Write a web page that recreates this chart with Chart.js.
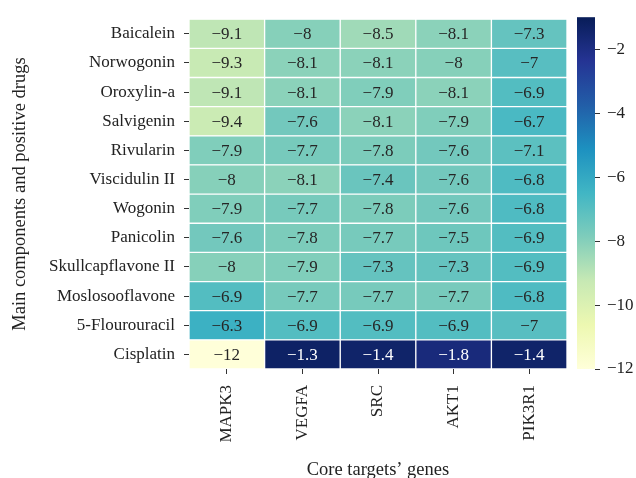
<!DOCTYPE html>
<html>
<head>
<meta charset="utf-8">
<script src="https://cdn.jsdelivr.net/npm/chart.js@4.4.0/dist/chart.umd.min.js"></script>
<style>
  html, body { margin: 0; padding: 0; background: #fff; }
  #wrap { position: relative; width: 636px; height: 478px; }
  #heat { position: absolute; left: 0; top: 0; }
  #cbar { position: absolute; left: 560px; top: 0; }
</style>
</head>
<body>
<div id="wrap">
  <canvas id="heat" width="636" height="478"></canvas>
  <canvas id="cbar" width="76" height="478"></canvas>
</div>
<script>
const drugs = ['Baicalein', 'Norwogonin', 'Oroxylin-a', 'Salvigenin', 'Rivularin', 'Viscidulin II',
  'Wogonin', 'Panicolin', 'Skullcapflavone II', 'Moslosooflavone', '5-Flourouracil', 'Cisplatin'];
const genes = ['MAPK3', 'VEGFA', 'SRC', 'AKT1', 'PIK3R1'];

// docking scores, one array per gene, rows in drug order
const mapk3  = [-9.1, -9.3, -9.1, -9.4, -7.9, -8,   -7.9, -7.6, -8,   -6.9, -6.3, -12];
const vegfa  = [-8,   -8.1, -8.1, -7.6, -7.7, -8.1, -7.7, -7.8, -7.9, -7.7, -6.9, -1.3];
const src    = [-8.5, -8.1, -7.9, -8.1, -7.8, -7.4, -7.8, -7.7, -7.3, -7.7, -6.9, -1.4];
const akt1   = [-8.1, -8,   -8.1, -7.9, -7.6, -7.6, -7.6, -7.5, -7.3, -7.7, -6.9, -1.8];
const pik3r1 = [-7.3, -7,   -6.9, -6.7, -7.1, -6.8, -6.8, -6.9, -6.9, -6.8, -7,   -1.4];
const columns = [mapk3, vegfa, src, akt1, pik3r1];

const colorTicks = [-12, -10, -8, -6, -4, -2];
const vmin = -12, vmax = -1;

// YlGnBu
const stops = ['#ffffd9', '#edf8b1', '#c7e9b4', '#7fcdbb', '#41b6c4', '#1d91c0', '#225ea8', '#253494', '#081d58']
  .map(h => [parseInt(h.slice(1, 3), 16), parseInt(h.slice(3, 5), 16), parseInt(h.slice(5, 7), 16)]);

function rgbFor(v) {
  let t = (v - vmin) / (vmax - vmin);
  t = Math.max(0, Math.min(1, t)) * (stops.length - 1);
  const i = Math.min(Math.floor(t), stops.length - 2);
  const f = t - i;
  return stops[i].map((c, k) => Math.round(c + (stops[i + 1][k] - c) * f));
}
const cssFor = v => 'rgb(' + rgbFor(v).join(',') + ')';

function textFor(v) {
  const lum = rgbFor(v).map(c => {
    c /= 255;
    return c <= 0.03928 ? c / 12.92 : Math.pow((c + 0.055) / 1.055, 2.4);
  });
  const l = 0.2126 * lum[0] + 0.7152 * lum[1] + 0.0722 * lum[2];
  return l > 0.2 ? '#262626' : '#ffffff';
}
const fmt = v => (v < 0 ? '\u2212' : '') + Math.abs(v);

const SERIF = "'Liberation Serif', 'DejaVu Serif', serif";
const INK = '#222';

const cellLabels = {
  id: 'cellLabels',
  afterDatasetsDraw(chart) {
    const ctx = chart.ctx;
    ctx.save();
    ctx.font = '17px ' + SERIF;
    ctx.textAlign = 'center';
    ctx.textBaseline = 'middle';
    chart.data.datasets.forEach((ds, di) => {
      chart.getDatasetMeta(di).data.forEach((el, i) => {
        const v = ds.scores[i];
        const p = el.getCenterPoint();
        ctx.fillStyle = textFor(v);
        ctx.fillText(fmt(v), p.x, p.y + 1);
      });
    });
    ctx.restore();
  }
};

new Chart(document.getElementById('heat'), {
  type: 'bar',
  data: {
    labels: drugs,
    datasets: columns.map((vals, c) => ({
      data: vals.map(() => [c, c + 1]),
      scores: vals,
      backgroundColor: vals.map(cssFor),
      borderColor: '#ffffff',
      borderWidth: 1,
      borderSkipped: false,
      categoryPercentage: 1,
      barPercentage: 1,
      grouped: false
    }))
  },
  options: {
    indexAxis: 'y',
    responsive: false,
    animation: false,
    layout: { padding: { top: 13, right: 69, bottom: 0, left: 0 } },
    plugins: { legend: { display: false }, tooltip: { enabled: false } },
    scales: {
      x: {
        type: 'linear',
        min: 0,
        max: 5,
        afterBuildTicks: s => { s.ticks = genes.map((g, i) => ({ value: i + 0.5 })); },
        afterFit: s => { s.height = 109; },
        ticks: {
          callback: (v, i) => genes[i],
          autoSkip: false,
          minRotation: 90,
          maxRotation: 90,
          padding: 11,
          color: INK,
          font: { family: SERIF, size: 17 }
        },
        grid: { drawOnChartArea: false, tickLength: 5, color: '#333' },
        border: { display: false },
        title: {
          display: true,
          text: 'Core targets\u2019 genes',
          color: INK,
          padding: { top: 4, bottom: -3 },
          font: { family: SERIF, size: 18.5 }
        }
      },
      y: {
        type: 'category',
        afterFit: s => { s.width = 189; },
        ticks: { padding: 9, color: INK, font: { family: SERIF, size: 17 } },
        grid: { drawOnChartArea: false, offset: false, tickLength: 5, color: '#333' },
        border: { display: false },
        title: {
          display: true,
          text: 'Main components and positive drugs',
          color: INK,
          padding: { top: 9, bottom: 0 },
          font: { family: SERIF, size: 18.5 }
        }
      }
    }
  },
  plugins: [cellLabels]
});

// colour bar: gradient painted into the chart area of a bare linear scale
const gradientFill = {
  id: 'gradientFill',
  beforeDatasetsDraw(chart) {
    const { ctx, chartArea: a } = chart;
    const g = ctx.createLinearGradient(0, a.bottom, 0, a.top);
    stops.forEach((c, i) => g.addColorStop(i / (stops.length - 1), 'rgb(' + c.join(',') + ')'));
    ctx.save();
    ctx.fillStyle = g;
    ctx.fillRect(a.left, a.top, a.right - a.left, a.bottom - a.top);
    ctx.restore();
  }
};

new Chart(document.getElementById('cbar'), {
  type: 'bar',
  data: { labels: [''], datasets: [{ data: [] }] },
  options: {
    responsive: false,
    animation: false,
    layout: { padding: { top: 13, right: 0, bottom: 109, left: 17 } },
    plugins: { legend: { display: false }, tooltip: { enabled: false } },
    scales: {
      x: { display: false },
      y: {
        position: 'right',
        min: vmin,
        max: vmax,
        afterBuildTicks: s => { s.ticks = colorTicks.map(v => ({ value: v })); },
        afterFit: s => { s.width = 41; },
        ticks: {
          callback: v => fmt(v),
          padding: 7,
          color: INK,
          font: { family: SERIF, size: 17 }
        },
        grid: { drawOnChartArea: false, tickLength: 5, color: '#333' },
        border: { display: false }
      }
    }
  },
  plugins: [gradientFill]
});
</script>
</body>
</html>
